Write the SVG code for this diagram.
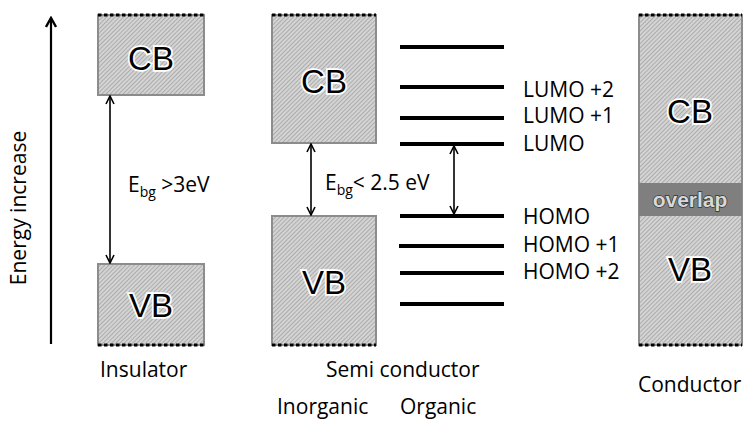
<svg xmlns="http://www.w3.org/2000/svg" width="747" height="422" viewBox="0 0 747 422">
<defs>
<pattern id="hatch" patternUnits="userSpaceOnUse" width="3" height="3" patternTransform="rotate(45)">
<rect width="3" height="3" fill="#d4d4d4"/>
<rect width="1" height="3" fill="#acacac"/>
</pattern>
<marker id="open" viewBox="0 0 10 10" refX="9" refY="5" markerWidth="10" markerHeight="10" markerUnits="userSpaceOnUse" orient="auto-start-reverse">
<polyline points="1,1 9,5 1,9" fill="none" stroke="#000" stroke-width="1.6"/>
</marker>
<marker id="big" viewBox="0 0 12 12" refX="10" refY="6" markerWidth="12" markerHeight="12" markerUnits="userSpaceOnUse" orient="auto">
<polyline points="1,1 10,6 1,11" fill="none" stroke="#000" stroke-width="2.4"/>
</marker>
</defs>
<style>
.band{fill:url(#hatch);stroke:#8c8c8c;stroke-width:2}
.dots{stroke:#000;stroke-width:3;stroke-dasharray:3.5 2.5;fill:none}
.big{font-family:"Liberation Sans",Arial,sans-serif;font-size:33px;fill:#000;stroke:#fff;stroke-width:3.5;paint-order:stroke;text-anchor:middle}
.lbl{font-family:"Open Sans","Liberation Sans",sans-serif;font-size:21px;fill:#000}
.lvl{stroke:#000;stroke-width:4}
.conn{stroke:#000;stroke-width:1.6;fill:none}
</style>

<g id="energy-axis">
<line x1="51" y1="344" x2="51" y2="18" stroke="#000" stroke-width="2.2" marker-end="url(#big)"/>
<text class="lbl" transform="translate(26,208) rotate(-90)" text-anchor="middle">Energy increase</text>
</g>

<g id="ins-cb">
<rect class="band" x="98" y="15" width="106" height="80"/>
<line class="dots" x1="98" y1="15" x2="204" y2="15"/>
<text class="big" x="151" y="70">CB</text>
</g>
<g id="ins-vb">
<rect class="band" x="98" y="264" width="106" height="81"/>
<line class="dots" x1="98" y1="345" x2="204" y2="345"/>
<text class="big" x="151" y="317">VB</text>
</g>
<g id="ins-label"><text class="lbl" x="100" y="377">Insulator</text></g>

<g id="semi-cb">
<rect class="band" x="272" y="15" width="104" height="128"/>
<line class="dots" x1="272" y1="15" x2="376" y2="15"/>
<text class="big" x="324" y="93">CB</text>
</g>
<g id="semi-vb">
<rect class="band" x="272" y="216" width="104" height="129"/>
<line class="dots" x1="272" y1="345" x2="376" y2="345"/>
<text class="big" x="324" y="294">VB</text>
</g>

<g id="organic-levels">
<line class="lvl" x1="400" y1="47" x2="504" y2="47"/>
<line class="lvl" x1="400" y1="87" x2="504" y2="87"/>
<line class="lvl" x1="400" y1="118" x2="504" y2="118"/>
<line class="lvl" x1="400" y1="144" x2="504" y2="144"/>
<line class="lvl" x1="400" y1="216" x2="504" y2="216"/>
<line class="lvl" x1="399" y1="246" x2="504" y2="246"/>
<line class="lvl" x1="400" y1="273" x2="504" y2="273"/>
<line class="lvl" x1="400" y1="304" x2="504" y2="304"/>
<text class="lbl" x="523" y="97">LUMO +2</text>
<text class="lbl" x="523" y="123">LUMO +1</text>
<text class="lbl" x="523" y="151">LUMO</text>
<text class="lbl" x="523" y="224">HOMO</text>
<text class="lbl" x="523" y="252">HOMO +1</text>
<text class="lbl" x="523" y="279">HOMO +2</text>
</g>

<g id="semi-labels">
<text class="lbl" x="326" y="377">Semi conductor</text>
<text class="lbl" x="277" y="414">Inorganic</text>
<text class="lbl" x="400" y="414">Organic</text>
</g>

<g id="cond">
<rect class="band" x="639" y="15" width="103" height="330"/>
<rect x="639" y="183" width="103" height="33" fill="#7f7f7f"/>
<line class="dots" x1="639" y1="15" x2="742" y2="15"/>
<line class="dots" x1="639" y1="345" x2="742" y2="345"/>
<text class="big" x="690" y="123">CB</text>
<text class="big" x="690" y="281">VB</text>
<text x="690" y="207" text-anchor="middle" font-family="Liberation Sans,Arial,sans-serif" font-size="21" font-weight="bold" fill="#d8d8d8" stroke="#333" stroke-width="1.4" paint-order="stroke">overlap</text>
<text class="lbl" x="638" y="392">Conductor</text>
</g>

<g id="connectors">
<line class="conn" x1="110" y1="96" x2="110" y2="263" marker-start="url(#open)" marker-end="url(#open)"/>
<line class="conn" x1="311" y1="144" x2="311" y2="215" marker-start="url(#open)" marker-end="url(#open)"/>
<line class="conn" x1="454" y1="146" x2="454" y2="214" marker-start="url(#open)" marker-end="url(#open)"/>
</g>

<g id="gap-labels">
<text class="lbl" x="128" y="192">E<tspan font-size="14" dy="5">bg</tspan><tspan dy="-5"> &gt;3eV</tspan></text>
<text class="lbl" x="325" y="190">E<tspan font-size="14" dy="5">bg</tspan><tspan dy="-5">&lt; 2.5 eV</tspan></text>
</g>
</svg>
